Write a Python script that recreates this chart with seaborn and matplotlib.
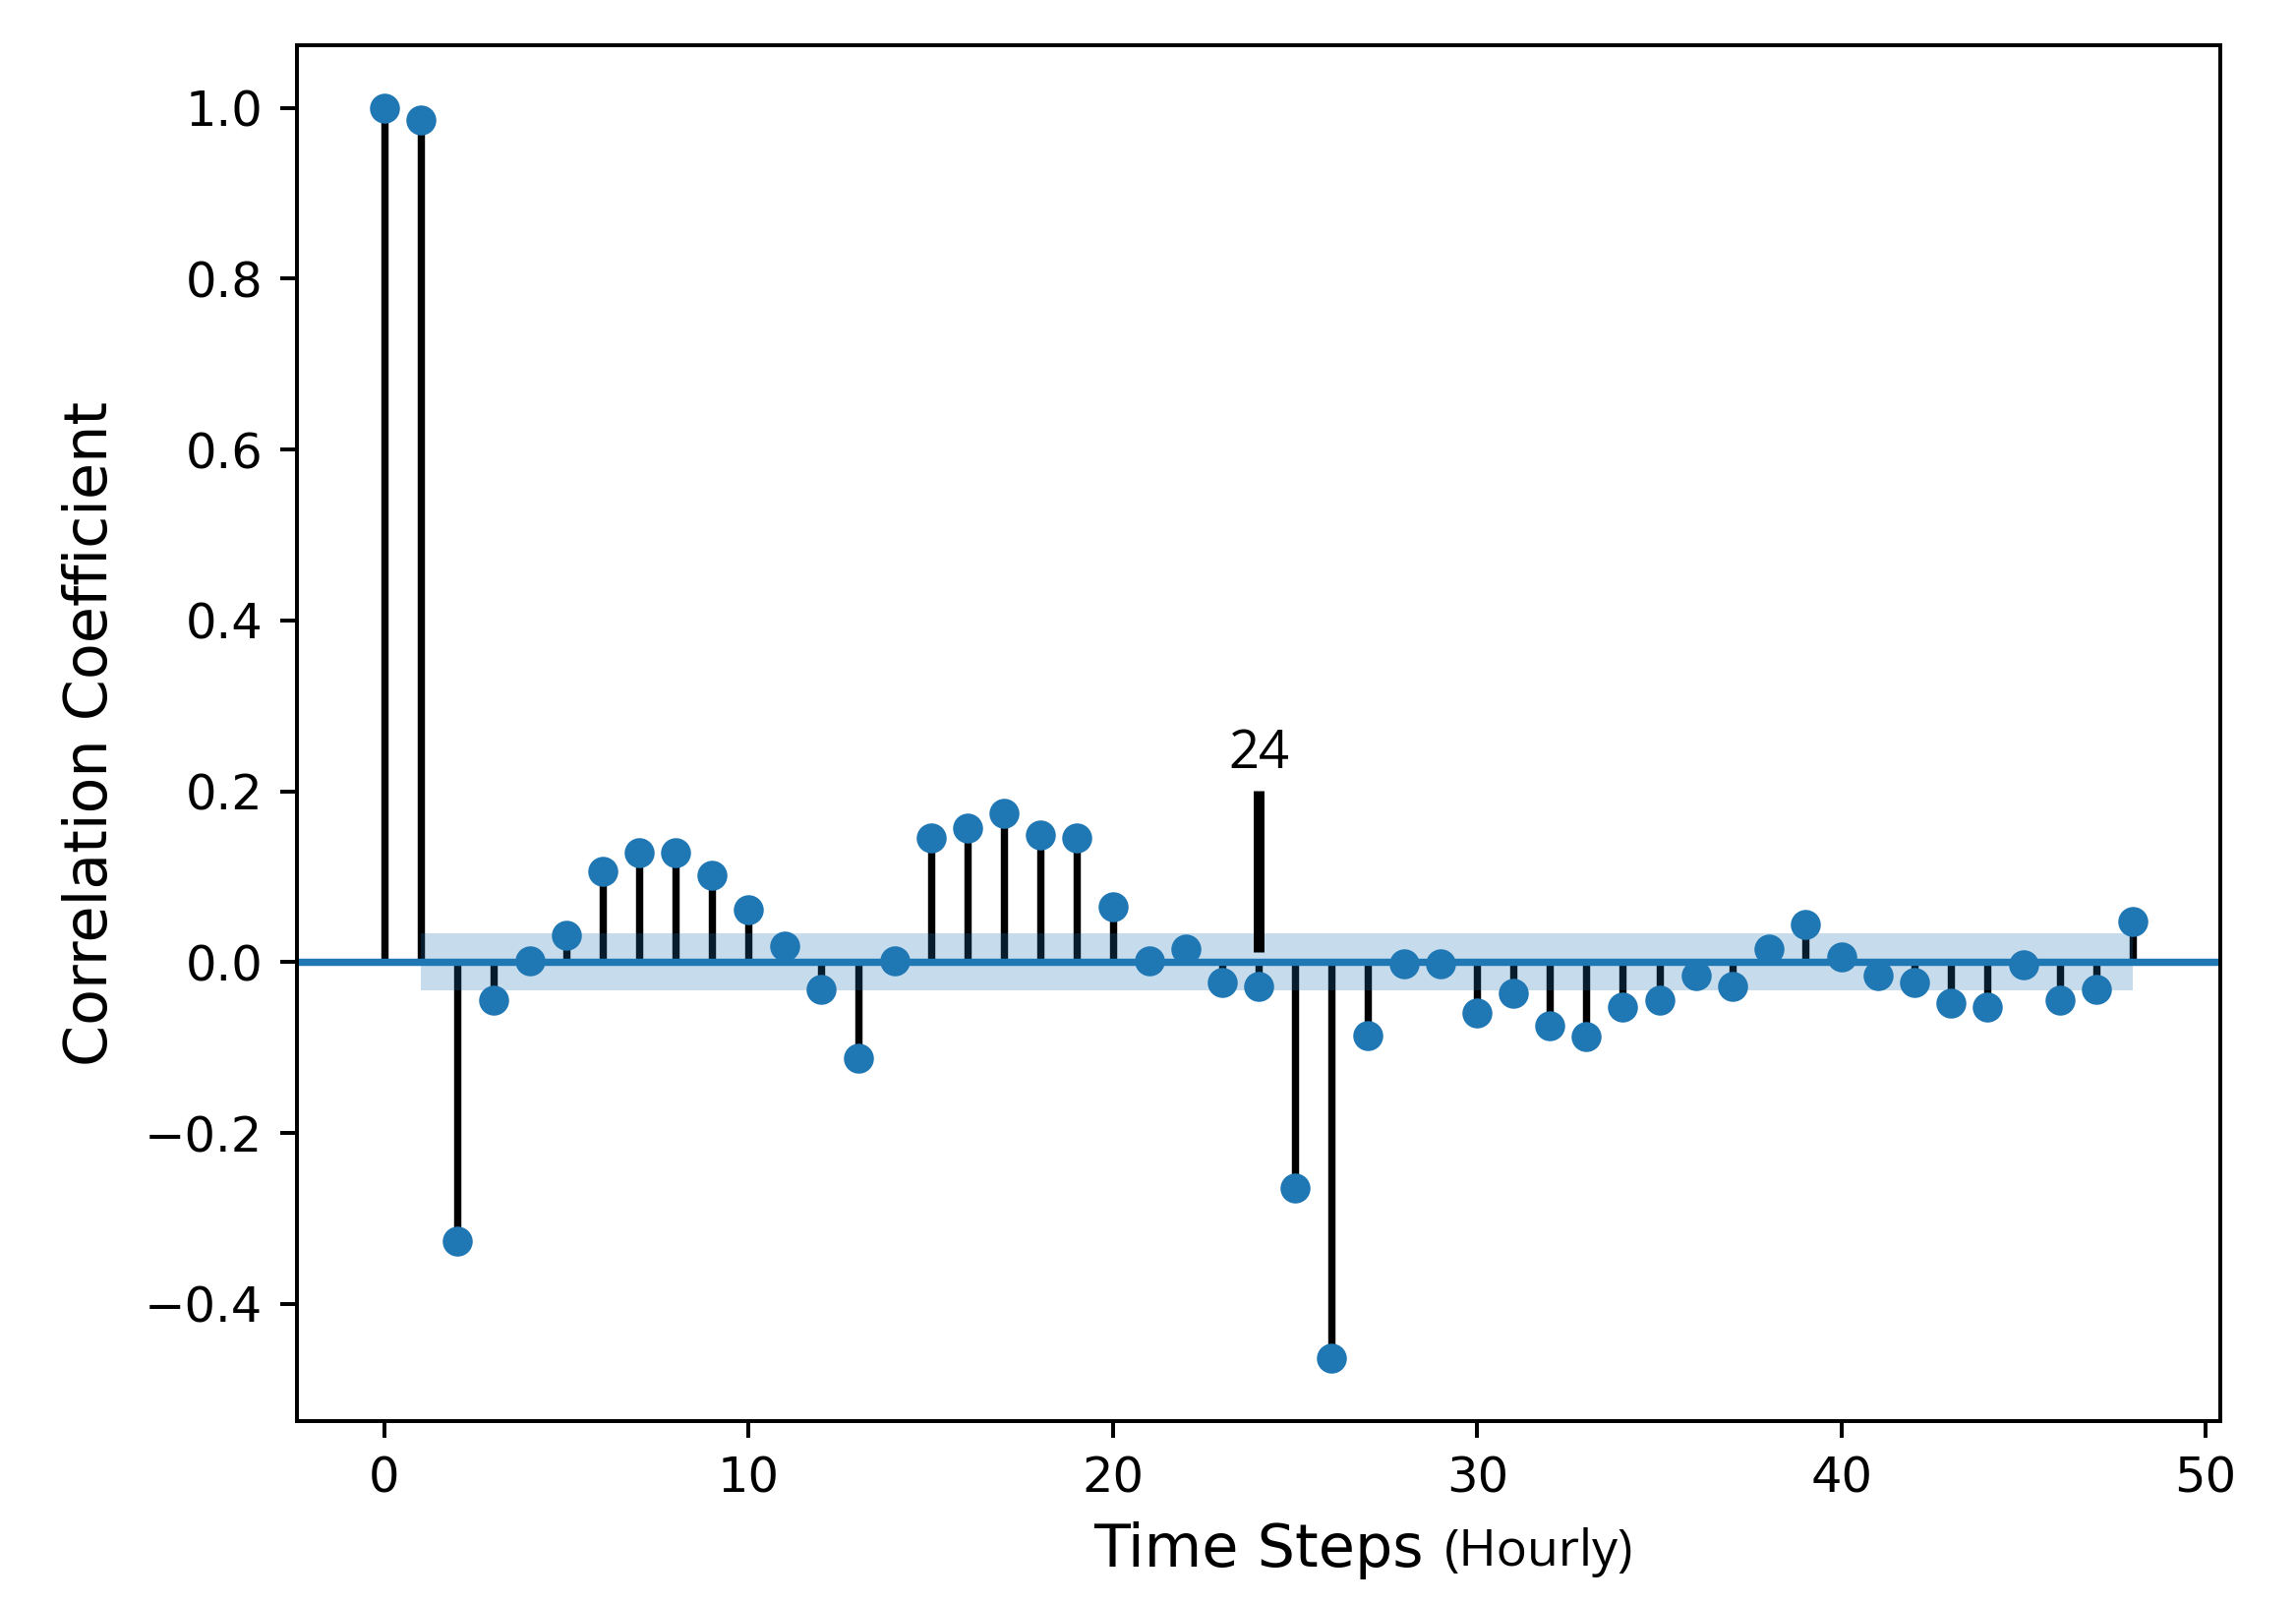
import matplotlib
matplotlib.use("Agg")
import matplotlib.pyplot as plt
import numpy as np
import pandas as pd
import seaborn as sns

# Partial autocorrelation values (lags 0..48)
lags = list(range(49))
pacf_vals = [1.0, 0.986, -0.327, -0.044, 0.002, 0.031, 0.106, 0.128, 0.128, 0.102,
             0.061, 0.019, -0.032, -0.112, 0.002, 0.145, 0.157, 0.174, 0.149, 0.145,
             0.065, 0.002, 0.015, -0.024, -0.028, -0.264, -0.464, -0.086, -0.002, -0.002,
             -0.060, -0.036, -0.074, -0.087, -0.053, -0.044, -0.016, -0.028, 0.015, 0.044,
             0.006, -0.016, -0.024, -0.048, -0.053, -0.003, -0.044, -0.032, 0.048]
conf_half_width = 0.0335  # 95% confidence band (+/-)

highlight_lag = 24
highlight_top = 0.201
highlight_bottom = 0.012

df = pd.DataFrame({"lag": lags, "pacf": pacf_vals})

dpi = 356
fig = plt.figure(figsize=(2335 / dpi, 1631 / dpi), dpi=dpi)
ax = fig.add_axes([302 / 2335, 1 - 1445 / 1631, (2258 - 302) / 2335, (1445 - 46) / 1631])

# stems
ax.vlines(df["lag"], 0, df["pacf"], colors="black", linewidth=1.5, zorder=1)
# zero line
ax.axhline(0, color="#1f77b4", linewidth=1.5, zorder=2)
# markers
sns.scatterplot(data=df, x="lag", y="pacf", ax=ax, color="#1f77b4", s=38,
                linewidth=0, zorder=3, legend=False)
# confidence band from lag 1 onwards
band_lags = np.array(lags[1:])
ax.fill_between(band_lags, -conf_half_width, conf_half_width,
                color="#1f77b4", alpha=0.25, linewidth=0, zorder=4)

# seasonal lag marker
ax.vlines(highlight_lag, highlight_bottom, highlight_top, colors="black",
          linewidth=2.2, zorder=5)
ax.text(highlight_lag, 0.227, str(highlight_lag), ha="center", va="baseline",
        fontsize=11, family=["Open Sans", "DejaVu Sans"], color="black")

ax.margins(x=0.05, y=0.05)
ax.set_xlabel("Time Steps", fontsize=12.2)
ax.set_ylabel("Correlation Coefficient", fontsize=12.2, labelpad=5)
ax.tick_params(labelsize=10)
fig.text(1469 / 2335, 1 - 1592 / 1631, "(Hourly)", ha="left", va="baseline",
         fontsize=10.5, family=["Open Sans", "DejaVu Sans"], color="black")

fig.savefig("out.png", dpi=dpi, facecolor="white")
